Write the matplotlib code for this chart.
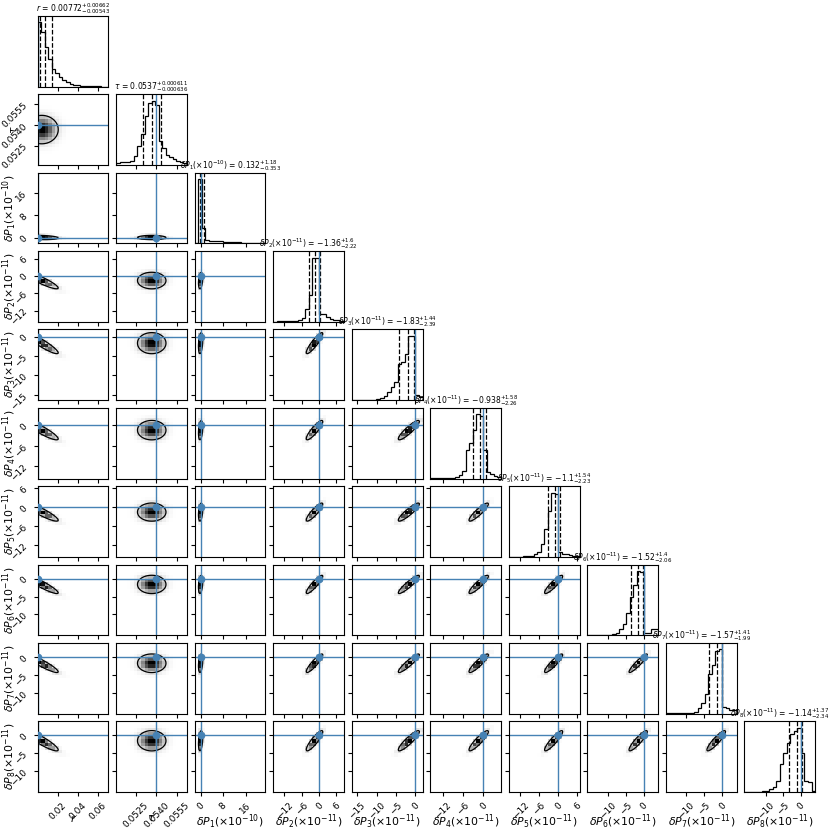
import numpy as np
import matplotlib
matplotlib.use("Agg")
import matplotlib.pyplot as plt
from matplotlib.colors import LinearSegmentedColormap, PowerNorm

# ---------------- data ----------------
labels = [r"$r$", r"$\tau$",
          r"$\delta P_1(\times10^{-10})$", r"$\delta P_2(\times10^{-11})$",
          r"$\delta P_3(\times10^{-11})$", r"$\delta P_4(\times10^{-11})$",
          r"$\delta P_5(\times10^{-11})$", r"$\delta P_6(\times10^{-11})$",
          r"$\delta P_7(\times10^{-11})$", r"$\delta P_8(\times10^{-11})$"]

truths = [0.0, 0.0540, 0.0, 0.0, 0.0, 0.0, 0.0, 0.0, 0.0, 0.0]

ranges = [(0.0, 0.071), (0.0511, 0.0562), (-2.1, 23.1), (-15.9, 8.6),
          (-16.38, 1.82), (-15.7, 5.2), (-15.7, 6.7), (-15.84, 3.96),
          (-15.6, 3.9), (-16.0, 4.0)]

medians = [0.00772, 0.0537, 0.132, -1.36, -1.83, -0.938, -1.1, -1.52, -1.57, -1.14]
err_plus = [0.00662, 0.000611, 1.18, 1.6, 1.44, 1.58, 1.54, 1.4, 1.41, 1.37]
err_minus = [0.00543, 0.000636, 0.353, 2.22, 2.39, 2.26, 2.23, 2.06, 1.99, 2.34]

# 1D marginal histograms (20 bins across each range, relative heights)
hist_r = [1.0, 0.85, 0.61, 0.43, 0.28, 0.22, 0.15, 0.10, 0.07, 0.045,
          0.03, 0.022, 0.016, 0.011, 0.008, 0.006, 0.004, 0.003, 0.002, 0.001]
hist_tau = [0.035, 0.04, 0.045, 0.05, 0.07, 0.14, 0.29, 0.49, 0.76, 0.96,
            1.0, 0.93, 0.37, 0.27, 0.16, 0.12, 0.09, 0.06, 0.045, 0.03]
hist_dP1 = [0.01, 1.0, 0.24, 0.05, 0.045, 0.04, 0.035, 0.03, 0.027, 0.024,
            0.02, 0.018, 0.015, 0.012, 0.01, 0.008, 0.006, 0.004, 0.002, 0.001]
hist_dP2 = [0.004, 0.005, 0.006, 0.008, 0.01, 0.012, 0.018, 0.03, 0.06, 0.2,
            0.42, 1.0, 0.99, 0.12, 0.12, 0.08, 0.05, 0.035, 0.02, 0.005]
hist_dP3 = [0.002, 0.003, 0.004, 0.005, 0.006, 0.008, 0.01, 0.015, 0.03, 0.06,
            0.13, 0.21, 0.28, 0.57, 0.59, 0.72, 1.0, 1.0, 0.08, 0.05]
hist_dP4 = [0.002, 0.003, 0.004, 0.005, 0.006, 0.01, 0.015, 0.03, 0.06, 0.12,
            0.45, 0.55, 0.75, 1.0, 0.98, 0.45, 0.1, 0.07, 0.04, 0.02]
hist_dP5 = [0.002, 0.003, 0.004, 0.005, 0.007, 0.01, 0.02, 0.04, 0.08, 0.2,
            0.44, 0.72, 1.0, 0.98, 0.07, 0.05, 0.04, 0.03, 0.02, 0.01]
hist_dP6 = [0.002, 0.003, 0.003, 0.004, 0.005, 0.006, 0.008, 0.015, 0.04, 0.09,
            0.18, 0.34, 0.6, 0.78, 1.0, 0.98, 0.04, 0.03, 0.1, 0.1]
hist_dP7 = [0.002, 0.002, 0.003, 0.004, 0.005, 0.006, 0.008, 0.015, 0.03, 0.08,
            0.16, 0.3, 0.62, 0.75, 0.97, 1.0, 0.1, 0.09, 0.06, 0.05]
hist_dP8 = [0.002, 0.002, 0.003, 0.004, 0.005, 0.01, 0.02, 0.04, 0.08, 0.17,
            0.43, 0.6, 0.77, 0.9, 0.95, 1.0, 0.61, 0.17, 0.15, 0.02]
hists = [hist_r, hist_tau, hist_dP1, hist_dP2, hist_dP3, hist_dP4,
         hist_dP5, hist_dP6, hist_dP7, hist_dP8]

tick_values = [[0.02, 0.04, 0.06], [0.0525, 0.0540, 0.0555], [0, 8, 16],
               [-12, -6, 0, 6], [-15, -10, -5, 0], [-12, -6, 0],
               [-12, -6, 0, 6], [-10, -5, 0], [-10, -5, 0], [-10, -5, 0]]
tick_labels = [["0.02", "0.04", "0.06"], ["0.0525", "0.0540", "0.0555"],
               ["0", "8", "16"], ["\u221212", "\u22126", "0", "6"],
               ["\u221215", "\u221210", "\u22125", "0"], ["\u221212", "\u22126", "0"],
               ["\u221212", "\u22126", "0", "6"], ["\u221210", "\u22125", "0"],
               ["\u221210", "\u22125", "0"], ["\u221210", "\u22125", "0"]]

# 2D blobs: centre, width and correlation of each parameter pair
blob_centre = [0.004, 0.05366, 0.0, -1.6, -1.7, -1.4, -1.5, -1.6, -1.7, -1.5]
blob_width = [0.011, 0.00068, 0.5, 1.9, 1.8, 1.9, 1.9, 1.7, 1.7, 1.9]
blob_corr = [
    [],
    [0.0],
    [-0.2, 0.0],
    [-0.9, 0.0, 0.3],
    [-0.92, 0.0, 0.3, 0.9],
    [-0.9, 0.0, 0.3, 0.88, 0.9],
    [-0.9, 0.0, 0.3, 0.88, 0.9, 0.9],
    [-0.92, 0.0, 0.3, 0.9, 0.92, 0.9, 0.9],
    [-0.92, 0.0, 0.3, 0.9, 0.92, 0.9, 0.9, 0.93],
    [-0.9, 0.0, 0.3, 0.88, 0.9, 0.9, 0.9, 0.9, 0.9],
]

# ---------------- drawing ----------------
truth_color = "#4682b4"
TICK_FS = 6.5
LABEL_FS = 7.8
TITLE_FS = 5.5
NB = 20
density_cmap = LinearSegmentedColormap.from_list("dens", ["white", "black"])

n = len(labels)
fig, axes = plt.subplots(n, n, figsize=(8.3, 8.3), dpi=100)
fig.subplots_adjust(left=0.0454, right=0.982, bottom=0.0458, top=0.9807,
                    wspace=0.109, hspace=0.109)


def fmt(v):
    return "{:.3g}".format(v)


for i in range(n):
    for j in range(n):
        ax = axes[i, j]
        if j > i:
            ax.axis("off")
            continue
        x0, x1 = ranges[j]
        ax.set_xlim(x0, x1)
        ax.set_xticks(tick_values[j])
        if i == n - 1:
            ax.set_xticklabels(tick_labels[j], rotation=45, fontsize=TICK_FS)
            ax.set_xlabel(labels[j], fontsize=LABEL_FS)
            ax.xaxis.set_label_coords(0.5, -0.3)
        else:
            ax.set_xticklabels([])
        ax.tick_params(length=3, width=0.8)

        if i == j:
            edges = np.linspace(x0, x1, NB + 1)
            h = np.array(hists[i])
            ax.stairs(h, edges, baseline=0, color="k", lw=0.9)
            ax.set_ylim(0, 1.1 * h.max())
            ax.set_yticks([])
            q16 = medians[i] - err_minus[i]
            q84 = medians[i] + err_plus[i]
            for q in (q16, medians[i], q84):
                ax.axvline(q, ls="--", color="k", lw=0.9)
            ax.axvline(truths[i], color=truth_color, lw=1.0)
            title = "{} = ${}_{{-{}}}^{{+{}}}$".format(
                labels[i], fmt(medians[i]), fmt(err_minus[i]), fmt(err_plus[i]))
            ax.set_title(title, fontsize=TITLE_FS, pad=2)
            continue

        # 2D panel: x variable j, y variable i
        y0, y1 = ranges[i]
        nf = 5
        xf = np.linspace(x0, x1, NB * nf + 1)
        yf = np.linspace(y0, y1, NB * nf + 1)
        xc = 0.5 * (xf[1:] + xf[:-1])
        yc = 0.5 * (yf[1:] + yf[:-1])
        X, Y = np.meshgrid(xc, yc)
        rho = blob_corr[i][j]
        u = (X - blob_centre[j]) / blob_width[j]
        v = (Y - blob_centre[i]) / blob_width[i]
        q = (u ** 2 - 2 * rho * u * v + v ** 2) / (1 - rho ** 2)
        D = np.exp(-0.5 * q)
        H = D.reshape(NB, nf, NB, nf).mean(axis=(1, 3))
        xe = np.linspace(x0, x1, NB + 1)
        ye = np.linspace(y0, y1, NB + 1)
        ax.pcolormesh(xe, ye, H, cmap=density_cmap,
                      norm=PowerNorm(gamma=1.7, vmin=0, vmax=H.max()),
                      shading="flat")
        level = np.exp(-0.5 * (-2 * np.log(1 - 0.68)))
        ax.contour(xc, yc, D, levels=[level], colors="k", linewidths=0.9)
        ax.set_ylim(y0, y1)
        ax.set_yticks(tick_values[i])
        if j == 0:
            ax.set_yticklabels(tick_labels[i], rotation=45, fontsize=TICK_FS)
            ax.set_ylabel(labels[i], fontsize=LABEL_FS)
            ax.yaxis.set_label_coords(-0.27, 0.5)
        else:
            ax.set_yticklabels([])
        ax.axvline(truths[j], color=truth_color, lw=1.0)
        ax.axhline(truths[i], color=truth_color, lw=1.0)
        ax.plot(truths[j], truths[i], "o", color=truth_color, ms=4.5,
                zorder=5)

fig.savefig("out.png", dpi=100)
